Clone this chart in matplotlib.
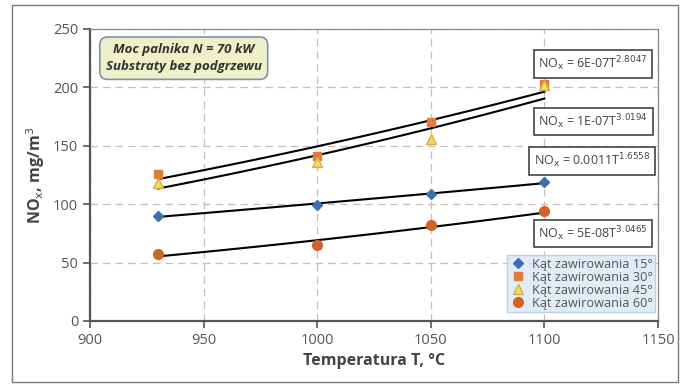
import numpy as np
import matplotlib
matplotlib.use("Agg")
import matplotlib.pyplot as plt
from matplotlib.patches import Rectangle

plt.rcParams['font.family'] = ['Open Sans', 'DejaVu Sans']

temps = [930, 1000, 1050, 1100]
nox_15 = [90, 99, 109, 119]
nox_30 = [126, 141, 170, 203]
nox_45 = [118, 136, 156, 202]
nox_60 = [57, 65, 82, 94]
legend_labels = ["Kąt zawirowania 15°", "Kąt zawirowania 30°",
                 "Kąt zawirowania 45°", "Kąt zawirowania 60°"]
eq_texts = ["NO$_{\\rm x}$ = 6E-07T$^{2.8047}$", "NO$_{\\rm x}$ = 1E-07T$^{3.0194}$",
            "NO$_{\\rm x}$ = 0.0011T$^{1.6558}$", "NO$_{\\rm x}$ = 5E-08T$^{3.0465}$"]
eq_pos = [(1097.3, 220), (1097.3, 171), (1095.3, 137), (1097.3, 75)]

fig = plt.figure(figsize=(6.83, 3.86), dpi=100)
ax = fig.add_axes([90 / 683, 65 / 386, 568 / 683, 292 / 386])

series = [
    (nox_15, dict(marker='D', color='#3a6fb5', markersize=5)),
    (nox_30, dict(marker='s', color='#e07b39', markersize=6)),
    (nox_45, dict(marker='^', color='#f5d76e', markersize=7, markeredgecolor='#d8b040')),
    (nox_60, dict(marker='o', color='#d0622a', markersize=7)),
]
tx = np.array(temps, dtype=float)
tfit = np.linspace(930, 1100, 100)
for (vals, st), lab in zip(series, legend_labels):
    b, a = np.polyfit(np.log(tx), np.log(vals), 1)
    ax.plot(tfit, np.exp(a) * tfit ** b, color='black', lw=1.5, zorder=2)
for (vals, st), lab in zip(series, legend_labels):
    ax.plot(temps, vals, linestyle='none', label=lab, zorder=3, **st)

ax.set_xlim(900, 1150)
ax.set_ylim(0, 250)
ax.set_xticks(range(900, 1151, 50))
ax.set_yticks(range(0, 251, 50))
ax.grid(True, linestyle=(0, (6, 4)), color='#cbbcbc', lw=0.9)
ax.set_axisbelow(True)
for s in ['left', 'bottom']:
    ax.spines[s].set_color('#555555')
    ax.spines[s].set_linewidth(1.6)
for s in ['top', 'right']:
    ax.spines[s].set_color('#888888')
    ax.spines[s].set_linewidth(0.9)
ax.tick_params(axis='both', colors='#555555', labelsize=10.5, length=5, width=1.2,
               labelcolor='#555555')
ax.set_xlabel("Temperatura T, °C", fontsize=11.5, fontweight='bold', color='#444444')
ax.set_ylabel("NO$_{\\rm x}$, mg/m$^{3}$", fontsize=11.5, fontweight='bold', color='#444444')

for txt, (x, y) in zip(eq_texts, eq_pos):
    ax.text(x, y, txt, fontsize=9, color='#444444', ha='left', va='center', zorder=5,
            bbox=dict(boxstyle='square,pad=0.35', fc='white', ec='#444444', lw=1.2))

ax.text(0.165, 0.90, "Moc palnika N = 70 kW\nSubstraty bez podgrzewu", transform=ax.transAxes,
        ha='center', va='center', fontsize=9.5, style='italic', fontweight='bold', color='#333333',
        linespacing=1.45, zorder=5,
        bbox=dict(boxstyle='round,pad=0.45,rounding_size=0.6', fc='#eef0c8', ec='#7a93b0', lw=1.2))

leg = ax.legend(loc='lower right', fontsize=9.2, frameon=True, fancybox=False,
                handletextpad=0.4, borderpad=0.2, labelspacing=0.0, handlelength=1.3,
                borderaxespad=0.0, bbox_to_anchor=(0.995, 0.03))
leg.get_frame().set_facecolor('#dbe8f4')
leg.get_frame().set_edgecolor('#b0c8e0')
for t in leg.get_texts():
    t.set_color('#555555')

fig.patches.append(Rectangle((12 / 683, 4 / 386), 666 / 683, 377 / 386, transform=fig.transFigure,
                             fill=False, ec='#777777', lw=1.0))

fig.savefig("out.png", dpi=100)
